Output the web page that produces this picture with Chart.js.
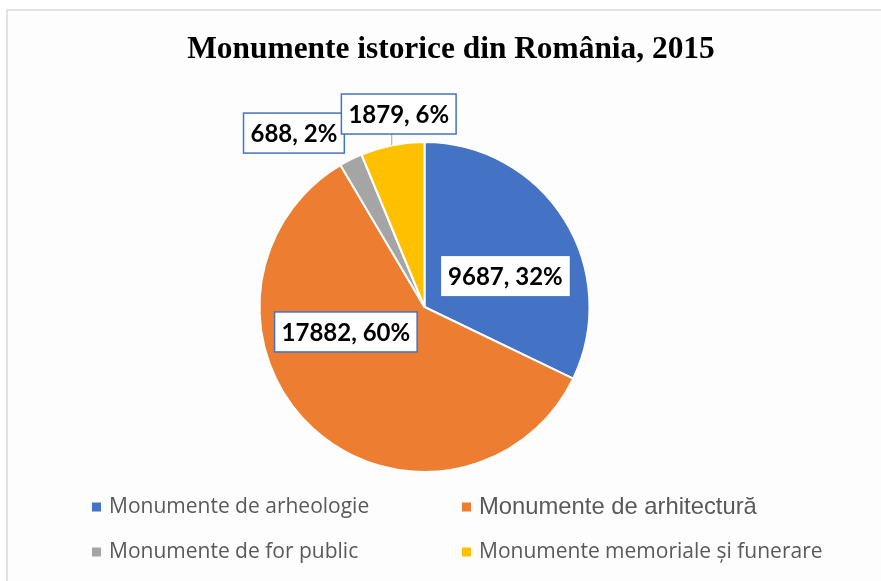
<!DOCTYPE html>
<html>
<head>
<meta charset="utf-8">
<script src="https://cdn.jsdelivr.net/npm/chart.js@4"></script>
<style>
  html, body { margin: 0; padding: 0; background: #ffffff; }
  #wrap { width: 881px; height: 581px; position: relative; }
</style>
</head>
<body>
<div id="wrap"><canvas id="c" width="881" height="581"></canvas></div>
<script>
// ---- data ----
const categories = [
  "Monumente de arheologie",
  "Monumente de arhitectură",
  "Monumente de for public",
  "Monumente memoriale și funerare"
];
const values = [9687, 17882, 688, 1879];
const percentLabels = [32, 60, 2, 6];
const chartTitle = "Monumente istorice din România, 2015";

// ---- styles ----
const colors = ["#4472C4", "#ED7D31", "#A5A5A5", "#FFC000"];
// label placement: angle (deg, canvas convention) and distance as a fraction of radius
const labelPlacement = [
  { angle: -20.9, frac: 0.525, border: false },
  { angle: 162.4, frac: 0.50, border: true },
  { angle: 233.1, frac: 1.318, border: true },
  { angle: 262.4, frac: 1.18, border: true, leader: true }
];
const legendFonts = [
  "21px 'Open Sans'",
  "23.8px 'Liberation Sans'",
  "21px 'Open Sans'",
  "21px 'Open Sans'"
];

const decorPlugin = {
  id: 'decor',
  beforeDraw(chart) {
    const ctx = chart.ctx;
    ctx.save();
    ctx.fillStyle = '#ffffff';
    ctx.fillRect(0, 0, chart.width, chart.height);
    ctx.fillStyle = '#fdfdfd';
    ctx.fillRect(7, 10, chart.width - 7, chart.height - 10);
    ctx.strokeStyle = '#d9d9d9';
    ctx.lineWidth = 1.5;
    ctx.beginPath();
    ctx.moveTo(7, chart.height + 2);
    ctx.lineTo(7, 10);
    ctx.lineTo(chart.width + 2, 10);
    ctx.stroke();
    ctx.restore();
  },
  afterDraw(chart) {
    const ctx = chart.ctx;
    const meta = chart.getDatasetMeta(0);
    ctx.save();
    // title
    ctx.fillStyle = '#000000';
    ctx.font = "bold 31.4px 'Liberation Serif'";
    ctx.textAlign = 'center';
    ctx.textBaseline = 'alphabetic';
    ctx.fillText(chartTitle, 451, 58);

    // data labels
    ctx.font = "bold 24px Lato";
    meta.data.forEach((arc, i) => {
      const p = labelPlacement[i];
      const a = p.angle * Math.PI / 180;
      const r = arc.outerRadius * p.frac;
      const cx = arc.x + Math.cos(a) * r;
      const cy = arc.y + Math.sin(a) * r;
      const text = values[i] + ", " + percentLabels[i] + "%";
      const w = ctx.measureText(text).width + 14;
      const h = 40;
      if (p.leader) {
        const lx = cx - 7;
        const dx = lx - arc.x;
        const ey = arc.y - Math.sqrt(arc.outerRadius * arc.outerRadius - dx * dx);
        ctx.strokeStyle = '#a6a6a6';
        ctx.lineWidth = 1;
        ctx.beginPath();
        ctx.moveTo(lx, cy + h / 2);
        ctx.lineTo(lx, ey);
        ctx.stroke();
      }
      ctx.fillStyle = '#ffffff';
      ctx.fillRect(cx - w / 2, cy - h / 2, w, h);
      if (p.border) {
        ctx.strokeStyle = '#4472C4';
        ctx.lineWidth = 1.5;
        ctx.strokeRect(cx - w / 2, cy - h / 2, w, h);
      }
      ctx.fillStyle = '#000000';
      ctx.textAlign = 'center';
      ctx.textBaseline = 'middle';
      ctx.fillText(text, cx, cy + 1);
    });

    // legend (2 columns)
    const colX = [92, 462];
    const rowY = [507, 552];
    categories.forEach((name, i) => {
      const col = i % 2, row = Math.floor(i / 2);
      const mx = colX[col], my = rowY[row];
      ctx.fillStyle = colors[i];
      ctx.fillRect(mx, my - 4.5, 9, 9);
      ctx.fillStyle = '#595959';
      ctx.font = legendFonts[i];
      ctx.textAlign = 'left';
      ctx.textBaseline = 'middle';
      ctx.fillText(name, mx + 17, my);
    });
    ctx.restore();
  }
};

new Chart(document.getElementById('c'), {
  type: 'pie',
  data: {
    labels: categories,
    datasets: [{
      data: values,
      backgroundColor: colors,
      borderColor: '#ffffff',
      borderWidth: 2,
      hoverOffset: 0
    }]
  },
  options: {
    responsive: false,
    animation: false,
    layout: { padding: { left: 258, right: 290, top: 141, bottom: 108 } },
    plugins: {
      legend: { display: false },
      title: { display: false },
      tooltip: { enabled: false }
    }
  },
  plugins: [decorPlugin]
});
</script>
</body>
</html>
